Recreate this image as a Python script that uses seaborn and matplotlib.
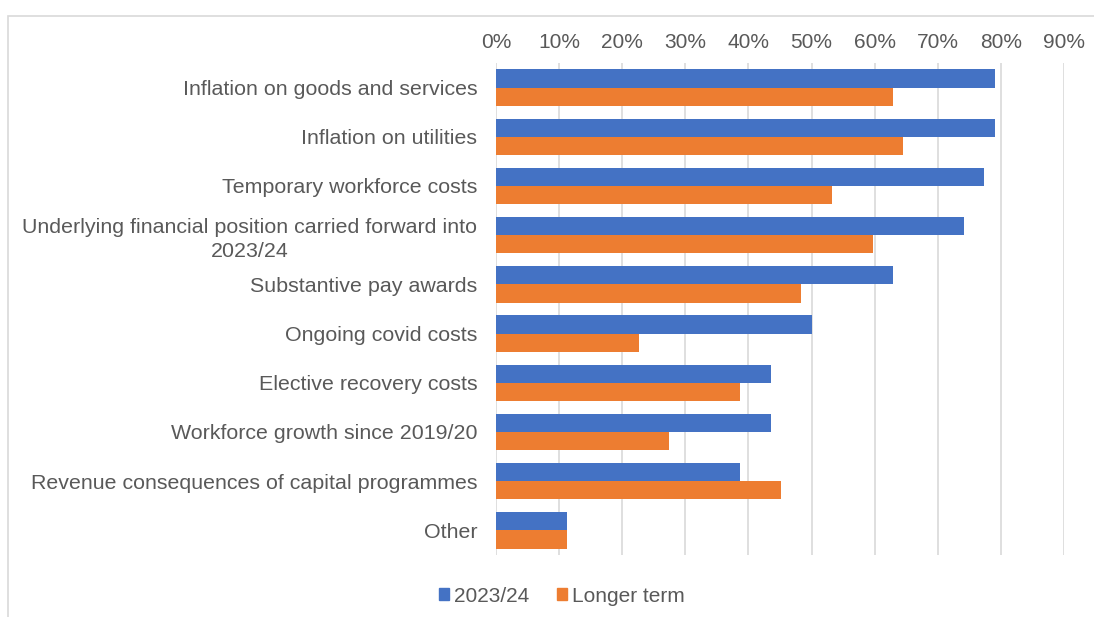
import matplotlib
matplotlib.use("Agg")
import matplotlib.pyplot as plt
import matplotlib.patches as mpatches
from matplotlib.ticker import PercentFormatter, MultipleLocator
import pandas as pd
import seaborn as sns

categories = [
    "Inflation on goods and services",
    "Inflation on utilities",
    "Temporary workforce costs",
    "Underlying financial position carried forward into\n2023/24",
    "Substantive pay awards",
    "Ongoing covid costs",
    "Elective recovery costs",
    "Workforce growth since 2019/20",
    "Revenue consequences of capital programmes",
    "Other",
]
series_names = ["2023/24", "Longer term"]
values_2023_24 = [79.0, 79.0, 77.4, 74.2, 62.9, 50.0, 43.5, 43.5, 38.7, 11.3]
values_longer_term = [62.9, 64.5, 53.2, 59.7, 48.4, 22.6, 38.7, 27.4, 45.2, 11.3]

df = pd.DataFrame({
    "category": categories * 2,
    "series": [series_names[0]] * len(categories) + [series_names[1]] * len(categories),
    "value": values_2023_24 + values_longer_term,
})

sns.set_theme(style="white")
plt.rcParams["font.family"] = ["Liberation Sans", "DejaVu Sans"]

text_grey = "#595959"
grid_grey = "#d9d9d9"
palette = {"2023/24": "#4472C4", "Longer term": "#ED7D31"}

fig = plt.figure(figsize=(10.94, 6.17), dpi=100)
ax = fig.add_axes([496 / 1094, 1 - 555 / 617, (1064 - 496) / 1094, (555 - 63) / 617])

sns.barplot(
    data=df, y="category", x="value", hue="series", palette=palette,
    order=categories, hue_order=series_names, orient="h",
    width=0.74, saturation=1, linewidth=0, ax=ax, legend=False,
)

ax.set_xlim(0, 90)
ax.xaxis.set_major_locator(MultipleLocator(10))
ax.xaxis.set_major_formatter(PercentFormatter(decimals=0))
ax.xaxis.tick_top()
ax.set_xlabel("")
ax.set_ylabel("")
ax.grid(axis="x", color=grid_grey, linewidth=1.2)
ax.set_axisbelow(True)
for s in ax.spines.values():
    s.set_visible(False)
ax.tick_params(axis="x", length=0, pad=8, labelsize=15, labelcolor=text_grey)
ax.tick_params(axis="y", length=0, pad=13.5, labelsize=15.4, labelcolor=text_grey)
for lab in ax.get_yticklabels():
    lab.set_multialignment("center")
    lab.set_linespacing(1.3)

handles = [mpatches.Patch(color=palette[n], label=n) for n in series_names]
fig.legend(
    handles=handles, loc="center", bbox_to_anchor=(562 / 1094, 1 - 596 / 617),
    ncol=2, frameon=False, fontsize=15, labelcolor=text_grey,
    handlelength=0.48, handleheight=0.5, handletextpad=0.25, columnspacing=1.3,
)

# light chart frame
fig.patches.append(mpatches.Rectangle(
    (8 / 1094, -0.05), 1.1, 1 - 16 / 617 + 0.05, transform=fig.transFigure,
    fill=False, edgecolor=grid_grey, linewidth=1.2,
))

fig.savefig("out.png", dpi=100, facecolor="white")
